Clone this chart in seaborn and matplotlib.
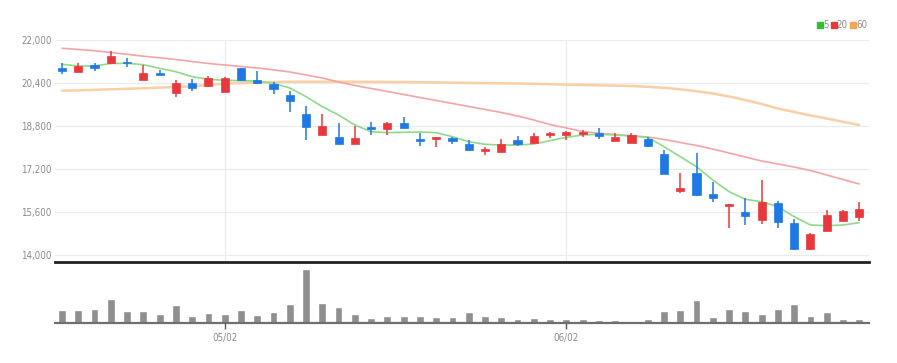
import matplotlib
matplotlib.use("Agg")
import matplotlib.pyplot as plt
from matplotlib import font_manager
from matplotlib.lines import Line2D
import seaborn as sns
import pandas as pd
import numpy as np

# ---- data ----
opens = [20958, 20820, 21070, 21133, 21170, 20512, 20783, 20039, 20411, 20288,
         20076, 20947, 20512, 20363, 19953, 19246, 18465, 18379, 18130, 18774,
         18677, 18923, 18305, 18305, 18354, 18119, 17881, 17821, 18279, 18156,
         18454, 18476, 18502, 18528, 18242, 18156, 18305, 17758, 16393, 17064,
         16270, 15823, 15611, 15302, 15946, 15179, 14212, 14904, 15276, 15403]
closes = [20846, 21044, 20970, 21416, 21133, 20761, 20709, 20411, 20203, 20575,
          20575, 20512, 20389, 20165, 19730, 18774, 18800, 18130, 18342, 18688,
          18923, 18714, 18242, 18402, 18242, 17907, 17955, 18130, 18119, 18428,
          18528, 18577, 18588, 18428, 18402, 18465, 18056, 17014, 16482, 16233,
          16110, 15897, 15462, 15961, 15217, 14212, 14770, 15488, 15648, 15711]
highs = [21144, 21155, 21155, 21591, 21319, 21070, 20884, 20512, 20549, 20660,
         20612, 20970, 20847, 20437, 20113, 19544, 19246, 18923, 18800, 18937,
         18940, 19124, 18528, 18402, 18402, 18279, 18031, 18305, 18428, 18551,
         18588, 18625, 18651, 18714, 18528, 18528, 18402, 17907, 17040, 17806,
         16727, 15897, 16110, 16791, 16009, 15339, 14807, 15674, 15660, 15983]
lows = [20735, 20809, 20846, 21107, 21007, 20512, 20698, 19890, 20113, 20263,
        20065, 20486, 20374, 19980, 19332, 18279, 18465, 18130, 18130, 18465,
        18465, 18714, 18056, 18031, 18130, 17881, 17721, 17821, 18056, 18156,
        18365, 18279, 18402, 18316, 18242, 18156, 18031, 17014, 16318, 16195,
        15983, 15015, 15116, 15153, 14993, 14186, 14186, 14904, 15276, 15276]
volumes = [127, 127, 137, 237, 120, 120, 94, 177, 67, 104,
           94, 127, 77, 107, 194, 537, 204, 160, 94, 54,
           70, 74, 74, 60, 57, 110, 70, 60, 40, 54,
           40, 40, 44, 27, 27, 20, 44, 120, 127, 227,
           60, 144, 120, 94, 137, 187, 70, 110, 44, 44]
ma5 = [21096, 21033, 21033, 21126, 21133, 21081, 20947, 20820, 20634, 20538,
       20500, 20486, 20474, 20389, 20214, 19890, 19518, 19209, 18837, 18588,
       18551, 18566, 18577, 18551, 18402, 18216, 18119, 18093, 18093, 18130,
       18253, 18379, 18465, 18491, 18465, 18428, 18379, 18030, 17658, 17285,
       16791, 16355, 16072, 15983, 15797, 15425, 15116, 15090, 15116, 15202]
ma20 = [21691, 21647, 21602, 21535, 21468, 21397, 21338, 21274, 21200, 21126,
        21070, 21014, 20958, 20891, 20809, 20698, 20586, 20437, 20307, 20195,
        20084, 19972, 19860, 19749, 19637, 19526, 19414, 19302, 19172, 19023,
        18856, 18726, 18595, 18528, 18484, 18435, 18391, 18298, 18186, 18074,
        17944, 17795, 17646, 17498, 17386, 17274, 17144, 16977, 16809, 16642]
ma60 = [20113, 20128, 20147, 20166, 20184, 20206, 20229, 20251, 20281, 20326,
        20381, 20400, 20419, 20437, 20445, 20448, 20448, 20448, 20445, 20445,
        20441, 20437, 20430, 20422, 20411, 20404, 20396, 20389, 20381, 20370,
        20355, 20340, 20326, 20314, 20303, 20288, 20259, 20221, 20166, 20095,
        20009, 19898, 19767, 19619, 19451, 19321, 19191, 19079, 18956, 18837]
tick_idx = [10, 31]
tick_labels = ["05/02", "06/02"]
y_ticks = [14000, 15600, 17200, 18800, 20400, 22000]
ma_names = ["5", "20", "60"]

# ---- style ----
sns.set_theme(style="white")
names = {f.name for f in font_manager.fontManager.ttflist}
if "Liberation Sans Narrow" in names:
    plt.rcParams['font.family'] = ['Liberation Sans Narrow', 'DejaVu Sans']
    FS = 7.8
else:
    plt.rcParams['font.family'] = ['DejaVu Sans']
    plt.rcParams['font.stretch'] = 'condensed'
    FS = 7.0

UP = "#e8383c"
DOWN = "#1f78e3"
W, H = 897, 363

fig = plt.figure(figsize=(W / 100, H / 100), dpi=100)
ax = fig.add_axes([55 / W, 1 - 262 / H, 814 / W, 222 / H])
axv = fig.add_axes([55 / W, 1 - 323 / H, 814 / W, 61 / H])

n = len(opens)
df = pd.DataFrame({"i": np.arange(n), "open": opens, "close": closes,
                   "high": highs, "low": lows, "vol": volumes,
                   "ma5": ma5, "ma20": ma20, "ma60": ma60})
up = df["close"] >= df["open"]
colors = np.where(up, UP, DOWN)

# grid
for yv in y_ticks:
    ax.axhline(yv, color="#ebebeb", lw=0.9, zorder=0)
for xv in tick_idx:
    ax.axvline(xv, color="#ebebeb", lw=0.9, zorder=0)

# moving averages
sns.lineplot(data=df, x="i", y="ma60", ax=ax, color="#f9cfa6", lw=1.8, zorder=1)
sns.lineplot(data=df, x="i", y="ma20", ax=ax, color="#f3a4a4", lw=1.2, zorder=1)
sns.lineplot(data=df, x="i", y="ma5", ax=ax, color="#8fd98b", lw=1.2, zorder=1)

# candles
ax.vlines(df["i"], df["low"], df["high"], colors=colors, lw=1.1, zorder=2)
body_bottom = np.minimum(df["open"], df["close"])
body_h = np.maximum(np.abs(df["close"] - df["open"]), 25)
ax.bar(df["i"], body_h, bottom=body_bottom, width=0.5, color=colors,
       edgecolor=colors, linewidth=0.5, zorder=3)

ax.set_xlim(-0.43, 49.6)
ax.set_ylim(13739, 22000)
ax.set_yticks(y_ticks)
ax.set_yticklabels([f"{v:,}" for v in y_ticks], color="#8a8a8a", fontsize=FS)
ax.tick_params(axis="y", length=0, pad=2.5)
ax.set_xticks([])
ax.set_xlabel("")
ax.set_ylabel("")
for s in ["top", "right", "left"]:
    ax.spines[s].set_visible(False)
ax.spines["bottom"].set_color("#222222")
ax.spines["bottom"].set_linewidth(2)

# legend
handles = [Line2D([], [], marker="s", ls="none", color=c, markersize=4.5)
           for c in ["#2fbf2f", "#e8383c", "#f2a552"]]
leg = ax.legend(handles, ma_names, loc="lower right", bbox_to_anchor=(0.998, 1.045),
                ncol=3, frameon=False, fontsize=FS, handlelength=0.4,
                handletextpad=0.1, columnspacing=0.35, borderpad=0, borderaxespad=0)
for t in leg.get_texts():
    t.set_color("#8a8a8a")

# volume
axv.bar(df["i"], df["vol"], width=0.48, color="#8f8f8f", zorder=2)
axv.set_xlim(-0.43, 49.6)
axv.set_ylim(0, 610)
axv.set_yticks([])
axv.set_xticks(tick_idx)
axv.set_xticklabels(tick_labels, color="#8a8a8a", fontsize=FS)
axv.tick_params(axis="x", length=4, width=1, color="#555555", pad=3, bottom=True)
axv.set_xlabel("")
axv.set_ylabel("")
for s in ["top", "right", "left"]:
    axv.spines[s].set_visible(False)
axv.spines["bottom"].set_color("#6f6f6f")
axv.spines["bottom"].set_linewidth(1.6)
axv.patch.set_alpha(0)

fig.savefig("out.png", dpi=100, facecolor="white")
